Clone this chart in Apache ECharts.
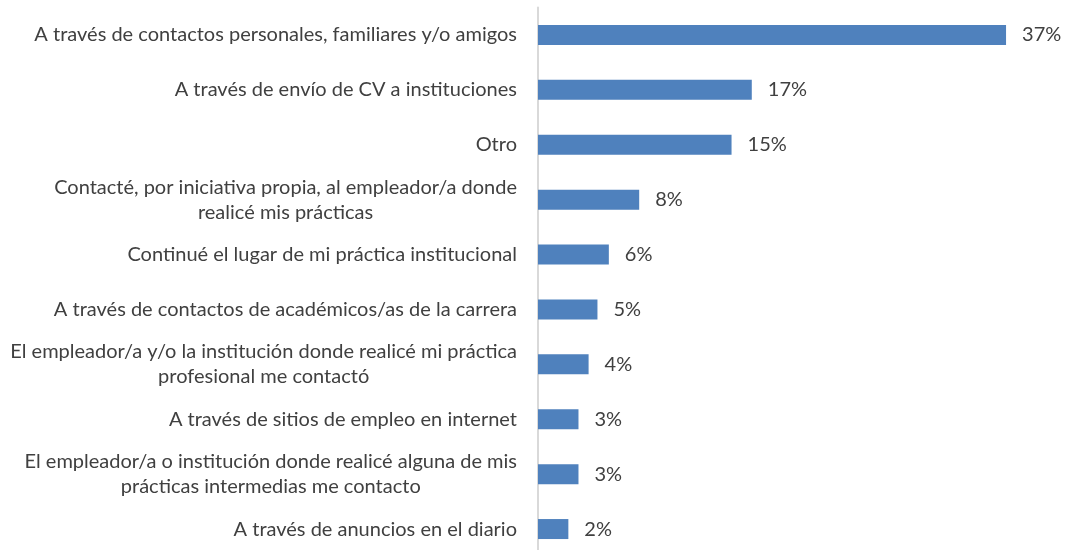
<!DOCTYPE html>
<html>
<head>
<meta charset="utf-8">
<script src="https://cdn.jsdelivr.net/npm/echarts@6/dist/echarts.min.js"></script>
<style>
  html, body { margin: 0; padding: 0; background: #fff; }
  #chart { width: 1067px; height: 550px; }
</style>
</head>
<body>
<div id="chart"></div>
<script>
const categories = [
  "A través de contactos personales, familiares y/o amigos",
  "A través de envío de CV a instituciones",
  "Otro",
  "Contacté, por iniciativa propia, al empleador/a donde\nrealicé mis prácticas",
  "Continué el lugar de mi práctica institucional",
  "A través de contactos de académicos/as de la carrera",
  "El empleador/a y/o la institución donde realicé mi práctica\nprofesional me contactó",
  "A través de sitios de empleo en internet",
  "El empleador/a o institución donde realicé alguna de mis\nprácticas intermedias me contacto",
  "A través de anuncios en el diario"
];
const values = [37, 16.9, 15.3, 8.0, 5.6, 4.7, 4.0, 3.2, 3.2, 2.4];

const chart = echarts.init(document.getElementById("chart"));
const font = "Lato, sans-serif";

chart.setOption({
  animation: false,
  grid: { left: 538, top: 7.5, width: 506, height: 549, outerBoundsMode: "none" },
  xAxis: {
    type: "value",
    min: 0,
    max: 40,
    show: false
  },
  yAxis: {
    type: "category",
    data: categories,
    inverse: true,
    axisLine: { show: true, lineStyle: { color: "#d9d9d9", width: 2 } },
    axisTick: { show: false },
    axisLabel: {
      margin: 21,
      color: "#404040",
      fontFamily: font,
      fontSize: 20,
      formatter: function (v) {
        return v.split("\n").map(function (s) { return "{c|" + s + "}"; }).join("\n");
      },
      rich: {
        c: {
          align: "center",
          color: "#404040",
          fontFamily: font,
          fontSize: 20,
          lineHeight: 25
        }
      }
    }
  },
  series: [
    {
      type: "bar",
      data: values,
      barWidth: 20,
      itemStyle: { color: "#4f81bd" },
      label: {
        show: true,
        position: "right",
        distance: 16,
        color: "#404040",
        fontFamily: font,
        fontSize: 20,
        formatter: function (p) { return Math.round(p.value) + "%"; }
      }
    }
  ]
});
</script>
</body>
</html>
